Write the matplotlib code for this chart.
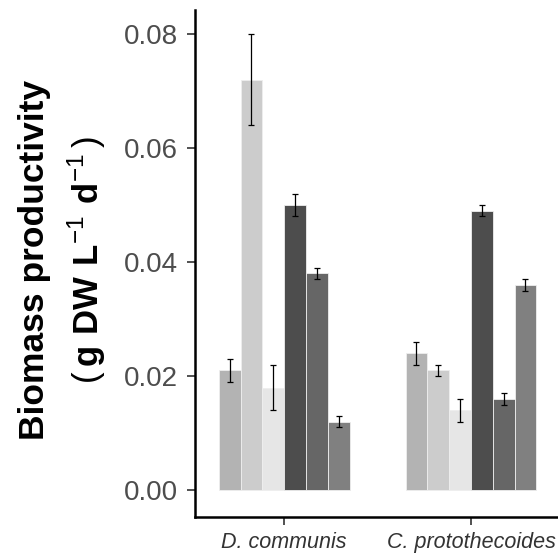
import numpy as np
import matplotlib
matplotlib.use("Agg")
import matplotlib.pyplot as plt

plt.rcParams['font.family'] = ['Liberation Sans', 'DejaVu Sans']
plt.rcParams['mathtext.fontset'] = 'custom'
plt.rcParams['mathtext.rm'] = 'Liberation Sans'
plt.rcParams['mathtext.bf'] = 'Liberation Sans:bold'

species = ['D. communis', 'C. protothecoides']
colors = ['#B3B3B3', '#CCCCCC', '#E6E6E6', '#4D4D4D', '#666666', '#808080']

# one list per treatment: [D. communis, C. protothecoides]
means = [
    [0.021, 0.024],
    [0.072, 0.021],
    [0.018, 0.014],
    [0.050, 0.049],
    [0.038, 0.016],
    [0.012, 0.036],
]
errs = [
    [0.002, 0.002],
    [0.008, 0.001],
    [0.004, 0.002],
    [0.002, 0.001],
    [0.001, 0.001],
    [0.001, 0.001],
]

fig = plt.figure(figsize=(5.58, 5.54), dpi=100)
ax = fig.add_axes([0.3495, 0.0668, 0.6505, 0.9152])

x = np.arange(len(species))
n = len(means)
w = 0.7 / n
for i in range(n):
    pos = x - 0.35 + w * (i + 0.5)
    ax.bar(pos, means[i], width=w, color=colors[i], edgecolor='#EEEEEE', linewidth=0.6)
    ax.errorbar(pos, means[i], yerr=errs[i], fmt='none', ecolor='black',
                elinewidth=0.9, capsize=2.2, capthick=0.9)

ax.set_xlim(-0.477, 1.466)
ax.set_ylim(-0.0047, 0.0842)
ax.set_yticks([0, 0.02, 0.04, 0.06, 0.08])
ax.set_yticklabels(['0.00', '0.02', '0.04', '0.06', '0.08'])
ax.set_xticks(x)
ax.set_xticklabels(species, style='italic', fontsize=15.5)

for s in ['top', 'right']:
    ax.spines[s].set_visible(False)
for s in ['left', 'bottom']:
    ax.spines[s].set_linewidth(1.8)
ax.tick_params(axis='y', labelsize=20, colors='#333333', labelcolor='#4D4D4D',
               length=6, width=1.2, pad=6)
ax.tick_params(axis='x', labelcolor='#333333', colors='#333333', length=6, width=1.2, pad=5)

# axis title, two lines drawn separately
fig.text(35 / 558, 1 - 260 / 554, 'Biomass productivity', rotation=90,
         ha='center', va='center', fontsize=25.5, fontweight='bold')
fig.text(87 / 558, 1 - 260 / 554,
         r'$\mathregular{(}\,\mathbf{g\ DW\ L}^{-1}\ \mathbf{d}^{-1}\,\mathregular{)}$',
         rotation=90, ha='center', va='center', fontsize=25)

fig.savefig('out.png', dpi=100)
